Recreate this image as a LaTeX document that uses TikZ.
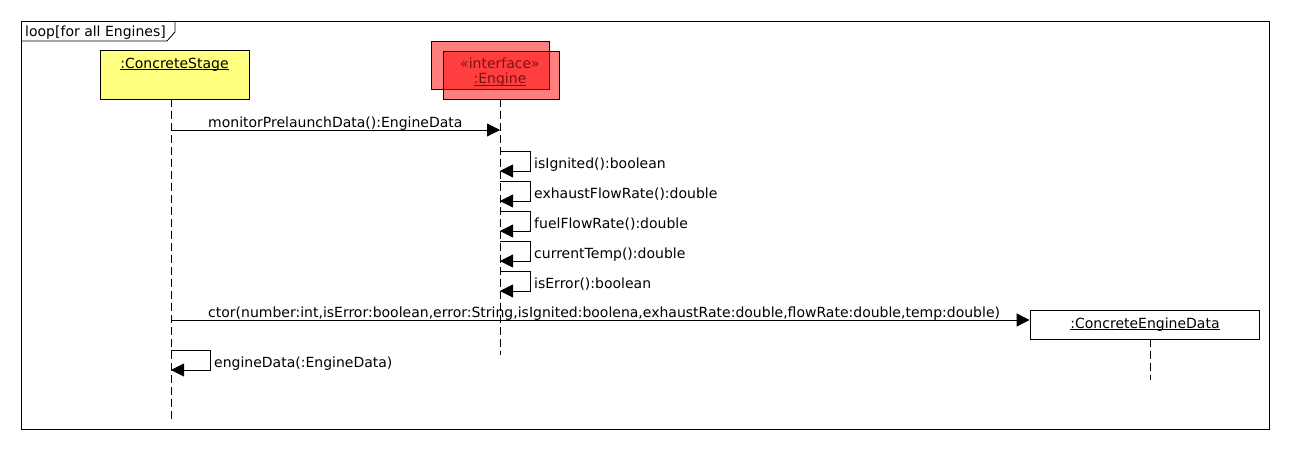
\documentclass[tikz,border=0pt]{standalone}
\usepackage{fontspec}
\setmainfont{DejaVu Sans}
\newcommand\myul[1]{\setbox0\hbox{#1}\rlap{\rule[-2.2pt]{\wd0}{0.8pt}}\box0}
\usetikzlibrary{arrows.meta}
\definecolor{stagey}{RGB}{255,255,128}
\definecolor{engred}{RGB}{255,0,0}
\definecolor{engtext}{RGB}{128,16,16}
\tikzset{
  lbl/.style={font=\fontsize{14}{16}\selectfont, inner sep=0pt, anchor=base west},
  ttl/.style={font=\fontsize{14}{16}\selectfont, inner sep=0pt, anchor=base},
  objbox/.style={draw=black, line width=0.8pt, inner sep=0pt},
  life/.style={draw=black, line width=0.8pt, dash pattern=on 8pt off 4pt},
  msg/.style={draw=black, line width=0.8pt, -{Triangle[length=13pt,width=13pt]}},
  frm/.style={draw=black, line width=0.8pt}
}
\begin{document}
\begin{tikzpicture}[x=1pt,y=-1pt]
\useasboundingbox (0,0) rectangle (1290,460);
% frame
\draw[frm] (21,21) rectangle (1269,429);
\draw[frm] (21,41) -- (167,41) -- (175,32) -- (175,21);
\node[lbl] (looplbl) at (25,37) {loop[for all Engines]};
% ConcreteStage
\node[objbox, fill=stagey, minimum width=149pt, minimum height=49pt] (stage) at (174.5,74.5) {};
\node[ttl] (stagelbl) at (174.5,68) {\myul{:ConcreteStage}};
% Engine
\node[objbox, fill=engred, fill opacity=0.5, minimum width=118pt, minimum height=48pt] (engback) at (490,65) {};
\node[objbox, fill=engred, fill opacity=0.5, minimum width=116pt, minimum height=48pt] (eng) at (501,75) {};
\node[ttl, text=engtext] (englbl1) at (500,68) {«interface»};
\node[ttl, text=engtext] (englbl2) at (500,84) {\myul{:Engine}};
% ConcreteEngineData
\node[objbox, fill=white, minimum width=229pt, minimum height=29pt] (ced) at (1144.5,324.5) {};
\node[ttl] (cedlbl) at (1145,328) {\myul{:ConcreteEngineData}};
% lifelines
\coordinate (stageEnd) at (171,420);
\coordinate (engEnd) at (500,355);
\coordinate (cedEnd) at (1150,380);
\draw[life] (171,99) -- (stageEnd);
\draw[life] (500,99) -- (engEnd);
\draw[life] (1150,339) -- (cedEnd);
% messages
\coordinate (m1s) at (171,130);
\coordinate (m1e) at (500,130);
\draw[msg] (m1s) -- (m1e);
\node[lbl] (m1lbl) at (208,127) {monitorPrelaunchData():EngineData};
\foreach \y/\t [count=\i] in {151/isIgnited():boolean,181/exhaustFlowRate():double,211/fuelFlowRate():double,241/currentTemp():double,271/isError():boolean}{
  \coordinate (s\i a) at (500,\y);
  \coordinate (s\i b) at (500,\y+20);
  \draw[msg] (s\i a) -- (530,\y) -- (530,\y+20) -- (s\i b);
  \node[lbl] (s\i lbl) at (534,\y+17) {\t};
}
\coordinate (m2s) at (171,320);
\draw[msg] (m2s) -- (ced.west |- m2s);
\node[lbl] (m2lbl) at (208,317) {ctor(number:int,isError:boolean,error:String,isIgnited:boolena,exhaustRate:double,flowRate:double,temp:double)};
\coordinate (e1a) at (171,350);
\coordinate (e1b) at (171,370);
\draw[msg] (e1a) -- (210,350) -- (210,370) -- (e1b);
\node[lbl] (e1lbl) at (214,367) {engineData(:EngineData)};
\end{tikzpicture}
\end{document}
